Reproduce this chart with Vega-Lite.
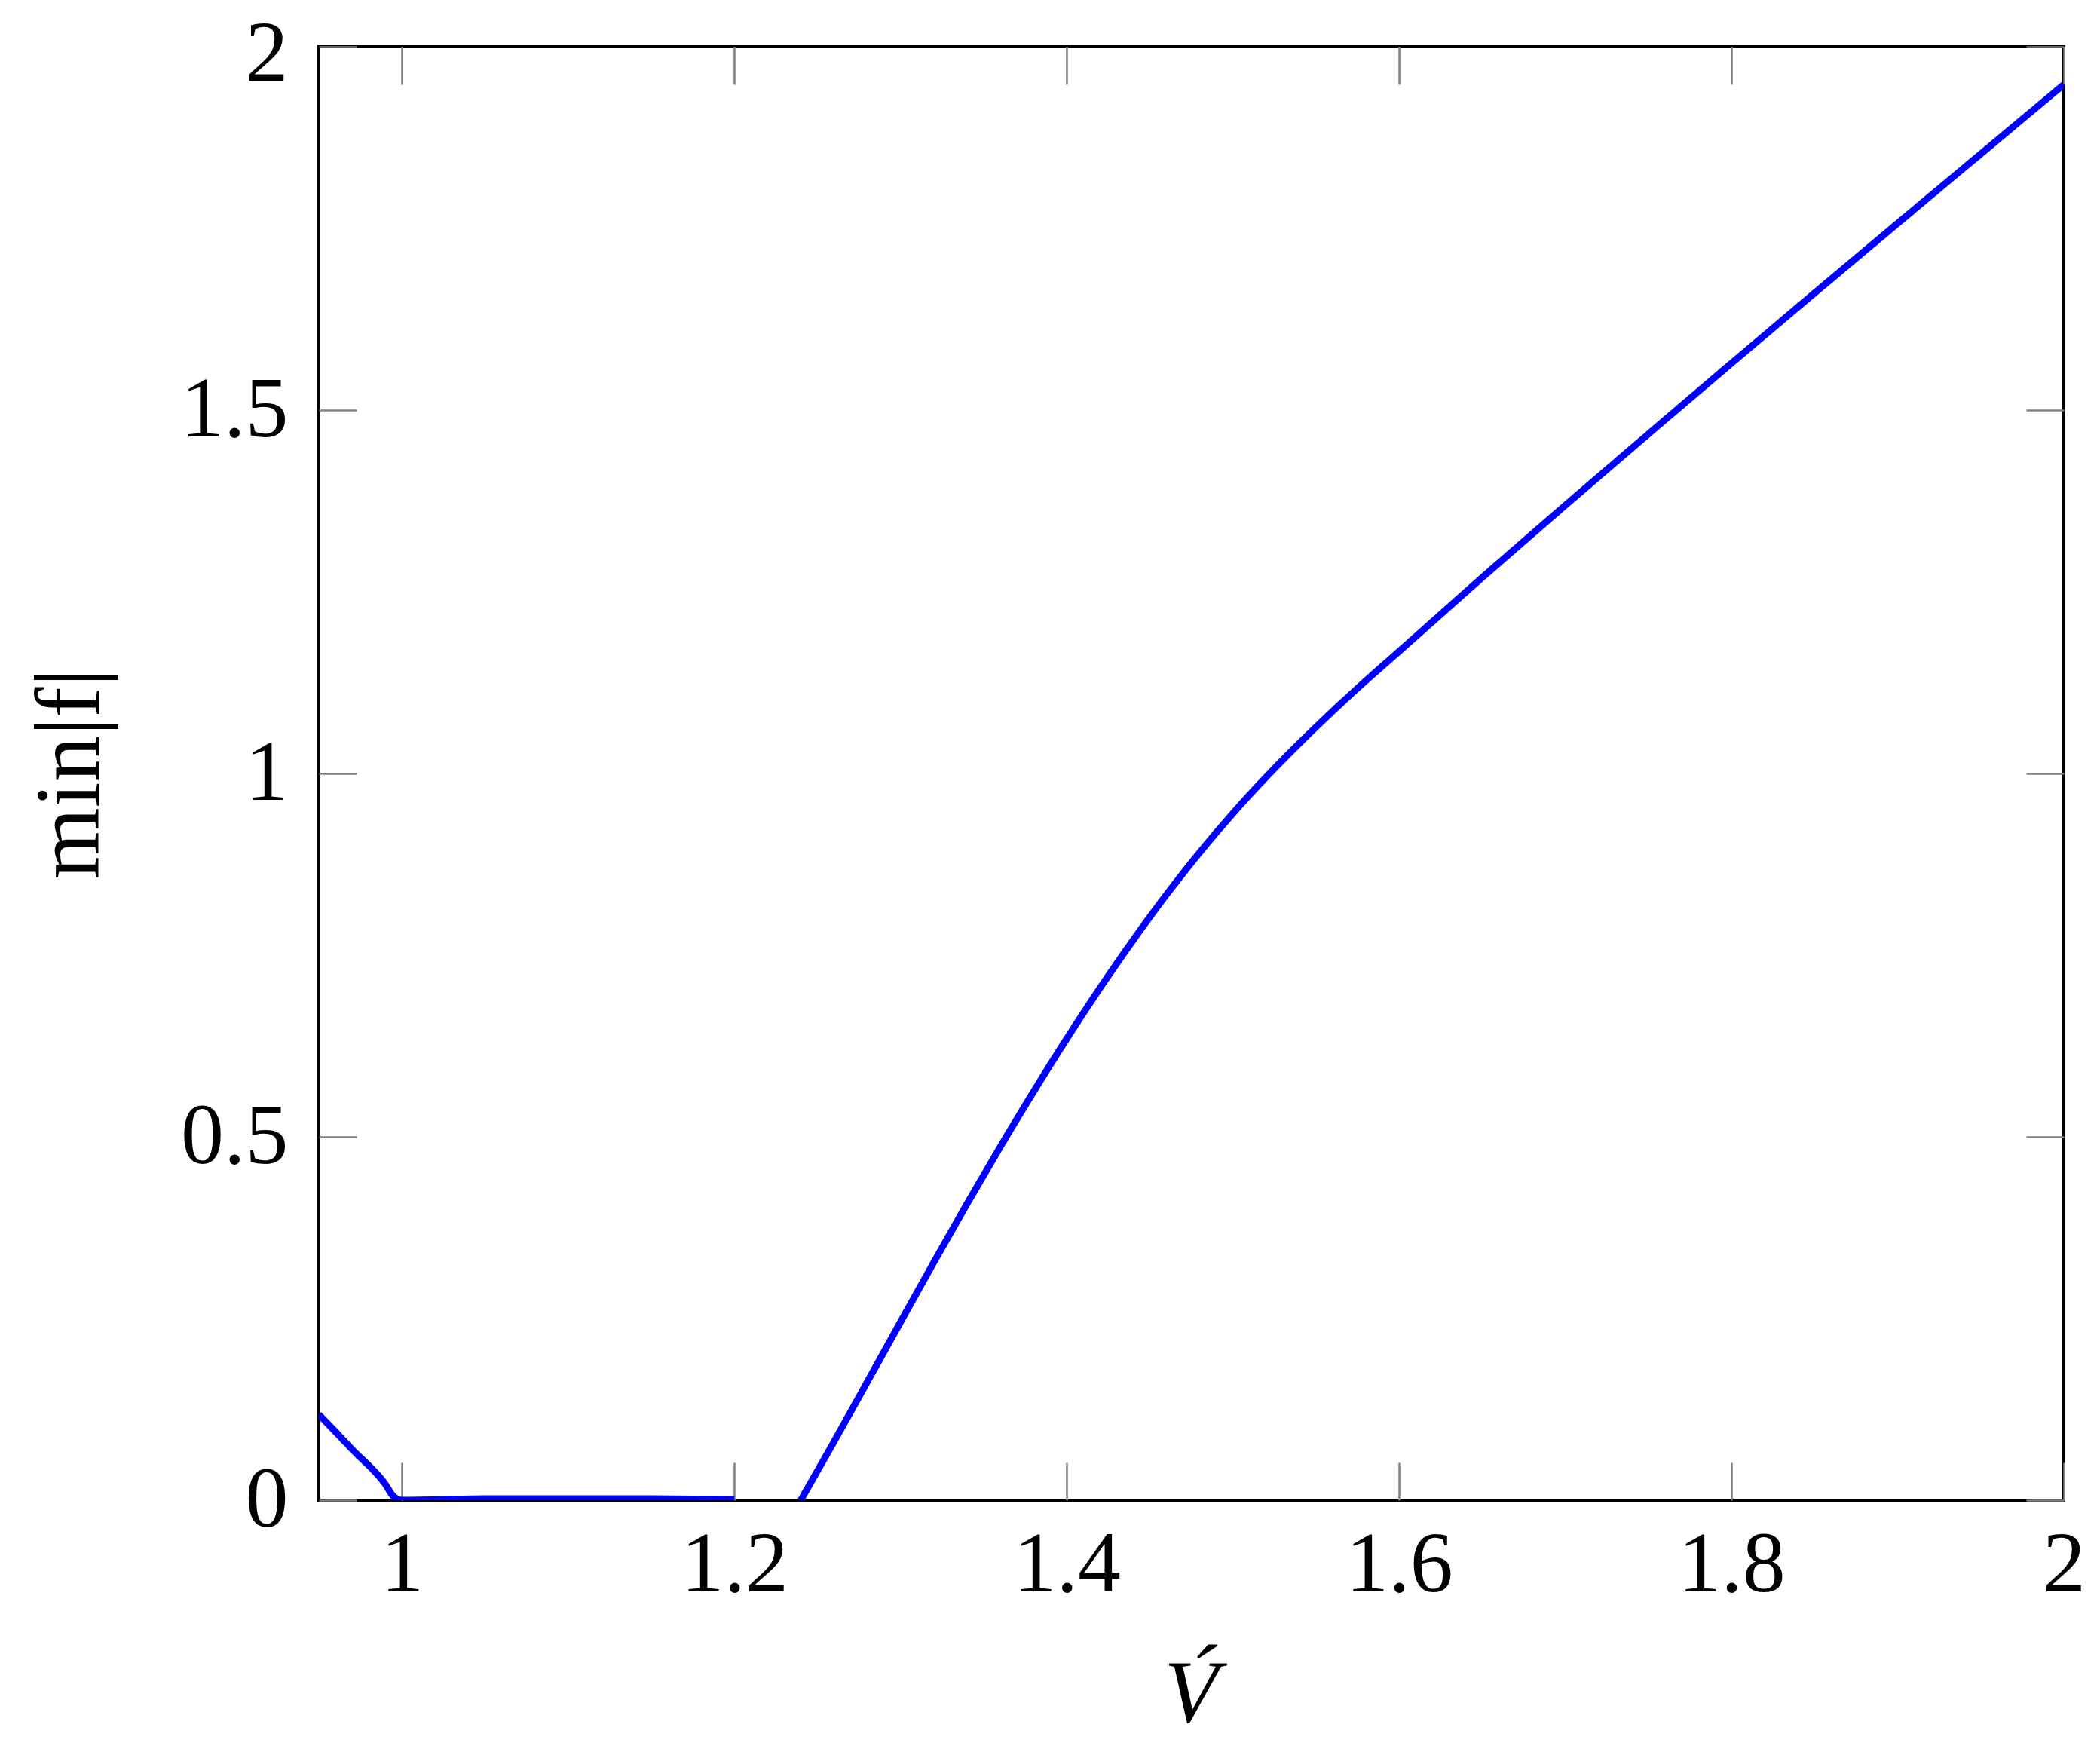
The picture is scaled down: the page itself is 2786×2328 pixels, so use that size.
{
  "$schema": "https://vega.github.io/schema/vega-lite/v6.json",
  "width": 2315,
  "height": 1928,
  "autosize": {"type": "none"},
  "padding": {"left": 423, "top": 62, "right": 48, "bottom": 338},
  "background": "white",
  "config": {
    "view": {"stroke": "black", "strokeWidth": 4},
    "font": "Liberation Serif"
  },
  "data": {
    "values": [
      {"V": 0.95, "f": 0.118, "seg": "a"},
      {"V": 0.97, "f": 0.07, "seg": "a"},
      {"V": 0.99, "f": 0.022, "seg": "a"},
      {"V": 0.995, "f": 0.005, "seg": "a"},
      {"V": 1.0, "f": 0.0, "seg": "a"},
      {"V": 1.05, "f": 0.002, "seg": "a"},
      {"V": 1.1, "f": 0.002, "seg": "a"},
      {"V": 1.15, "f": 0.002, "seg": "a"},
      {"V": 1.2, "f": 0.001, "seg": "a"},
      {"V": 1.24, "f": 0.0, "seg": "b"},
      {"V": 1.26, "f": 0.0805, "seg": "b"},
      {"V": 1.28, "f": 0.1627, "seg": "b"},
      {"V": 1.30, "f": 0.2451, "seg": "b"},
      {"V": 1.32, "f": 0.3271, "seg": "b"},
      {"V": 1.34, "f": 0.4077, "seg": "b"},
      {"V": 1.36, "f": 0.4861, "seg": "b"},
      {"V": 1.38, "f": 0.5619, "seg": "b"},
      {"V": 1.40, "f": 0.6348, "seg": "b"},
      {"V": 1.42, "f": 0.7045, "seg": "b"},
      {"V": 1.44, "f": 0.7707, "seg": "b"},
      {"V": 1.46, "f": 0.8331, "seg": "b"},
      {"V": 1.48, "f": 0.8913, "seg": "b"},
      {"V": 1.50, "f": 0.9451, "seg": "b"},
      {"V": 1.52, "f": 0.9949, "seg": "b"},
      {"V": 1.54, "f": 1.0415, "seg": "b"},
      {"V": 1.56, "f": 1.0856, "seg": "b"},
      {"V": 1.58, "f": 1.1276, "seg": "b"},
      {"V": 1.60, "f": 1.168, "seg": "b"},
      {"V": 1.65, "f": 1.2695, "seg": "b"},
      {"V": 1.70, "f": 1.369, "seg": "b"},
      {"V": 1.75, "f": 1.467, "seg": "b"},
      {"V": 1.80, "f": 1.5645, "seg": "b"},
      {"V": 1.85, "f": 1.661, "seg": "b"},
      {"V": 1.90, "f": 1.757, "seg": "b"},
      {"V": 1.95, "f": 1.8525, "seg": "b"},
      {"V": 2.00, "f": 1.948, "seg": "b"}
    ]
  },
  "layer": [
    {
      "mark": {"type": "line", "color": "#0000ff", "strokeWidth": 9, "interpolate": "monotone", "clip": true},
      "encoding": {
        "x": {
          "field": "V", "type": "quantitative",
          "scale": {"domain": [0.95, 2.0], "nice": false, "zero": false},
          "axis": {
            "orient": "bottom", "values": [1, 1.2, 1.4, 1.6, 1.8, 2], "format": "~g",
            "domain": false, "grid": false,
            "tickSize": -50, "tickColor": "#808080", "tickWidth": 2.5,
            "labelFontSize": 114, "labelColor": "black", "labelPadding": 80, "labelBaseline": "top",
            "labelFont": "Liberation Serif", "labelFlush": false,
            "title": "V́", "titleFontSize": 118, "titleFontWeight": "normal", "titleFontStyle": "italic",
            "titleFont": "Liberation Serif", "titleColor": "black",
            "titleX": 1157, "titleY": 258, "titleBaseline": "middle", "titleAlign": "center"
          }
        },
        "y": {
          "field": "f", "type": "quantitative",
          "scale": {"domain": [0, 2], "nice": false},
          "axis": {
            "orient": "left", "values": [0, 0.5, 1, 1.5, 2], "format": "~g",
            "domain": false, "grid": false,
            "tickSize": -50, "tickColor": "#808080", "tickWidth": 2.5,
            "labelFontSize": 114, "labelColor": "black", "labelPadding": 91,
            "labelOffset": {"condition": {"test": "datum.value == 2", "value": 10}, "value": 0},
            "labelFont": "Liberation Serif", "labelFlush": false,
            "title": "min|f|", "titleFontSize": 122, "titleFontWeight": "normal",
            "titleFont": "Liberation Serif", "titleColor": "black",
            "titleX": -330, "titleY": 964, "titleAngle": -90, "titleBaseline": "middle", "titleAlign": "center"
          }
        },
        "detail": {"field": "seg"}
      }
    },
    {
      "mark": {"type": "point", "opacity": 0},
      "encoding": {
        "x": {
          "field": "V", "type": "quantitative",
          "axis": {
            "orient": "top", "values": [1, 1.2, 1.4, 1.6, 1.8, 2],
            "domain": false, "grid": false, "labels": false, "title": null,
            "tickSize": -50, "tickColor": "#808080", "tickWidth": 2.5
          }
        },
        "y": {
          "field": "f", "type": "quantitative",
          "axis": {
            "orient": "right", "values": [0, 0.5, 1, 1.5, 2],
            "domain": false, "grid": false, "labels": false, "title": null,
            "tickSize": -50, "tickColor": "#808080", "tickWidth": 2.5
          }
        }
      }
    }
  ]
}
